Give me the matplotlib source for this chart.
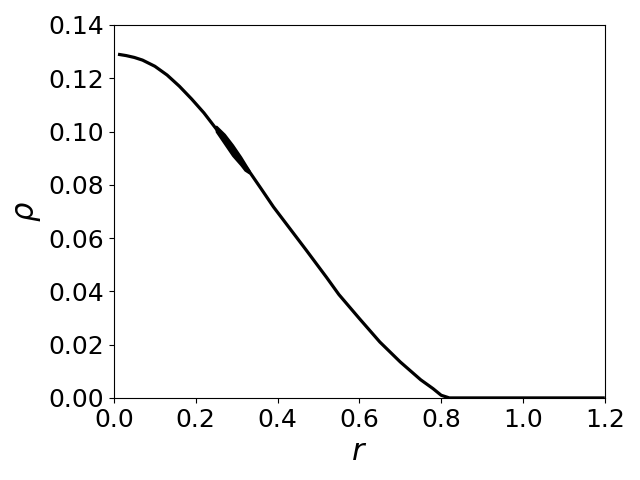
import matplotlib
matplotlib.use("Agg")
import matplotlib.pyplot as plt

# density profile
r = [0.01, 0.03, 0.05, 0.07, 0.10, 0.13, 0.16, 0.19, 0.22, 0.25, 0.28,
     0.31, 0.33, 0.36, 0.39, 0.43, 0.47, 0.52, 0.55, 0.60, 0.65, 0.70,
     0.75, 0.78, 0.80, 0.82, 0.85, 1.2]
rho = [0.1290, 0.1285, 0.1278, 0.1268, 0.1245, 0.1212, 0.1170, 0.1122,
       0.1070, 0.1010, 0.0945, 0.0890, 0.0852, 0.0785, 0.0717, 0.0636,
       0.0555, 0.0452, 0.0388, 0.0298, 0.0210, 0.0135, 0.0068, 0.0035,
       0.0010, 0.0, 0.0, 0.0]

# scattered (noisy) band around r ~ 0.25-0.33
r_band = [0.25, 0.27, 0.29, 0.31, 0.32, 0.33]
rho_hi = [0.1020, 0.0990, 0.0950, 0.0905, 0.0880, 0.0855]
rho_lo = [0.1000, 0.0955, 0.0910, 0.0875, 0.0855, 0.0845]

fig, ax = plt.subplots(figsize=(6.4, 4.8), dpi=100)
fig.subplots_adjust(left=0.178, right=0.945, top=0.948, bottom=0.171)

ax.plot(r, rho, color='black', lw=2.3, solid_capstyle='butt')
ax.fill_between(r_band, rho_lo, rho_hi, color='black', lw=1.5)

ax.set_xlim(0, 1.2)
ax.set_ylim(0, 0.14)
ax.set_xlabel(r'$r$', fontsize=22)
ax.set_ylabel(r'$\rho$', fontsize=22)
ax.tick_params(labelsize=18)

plt.savefig('out.png')
